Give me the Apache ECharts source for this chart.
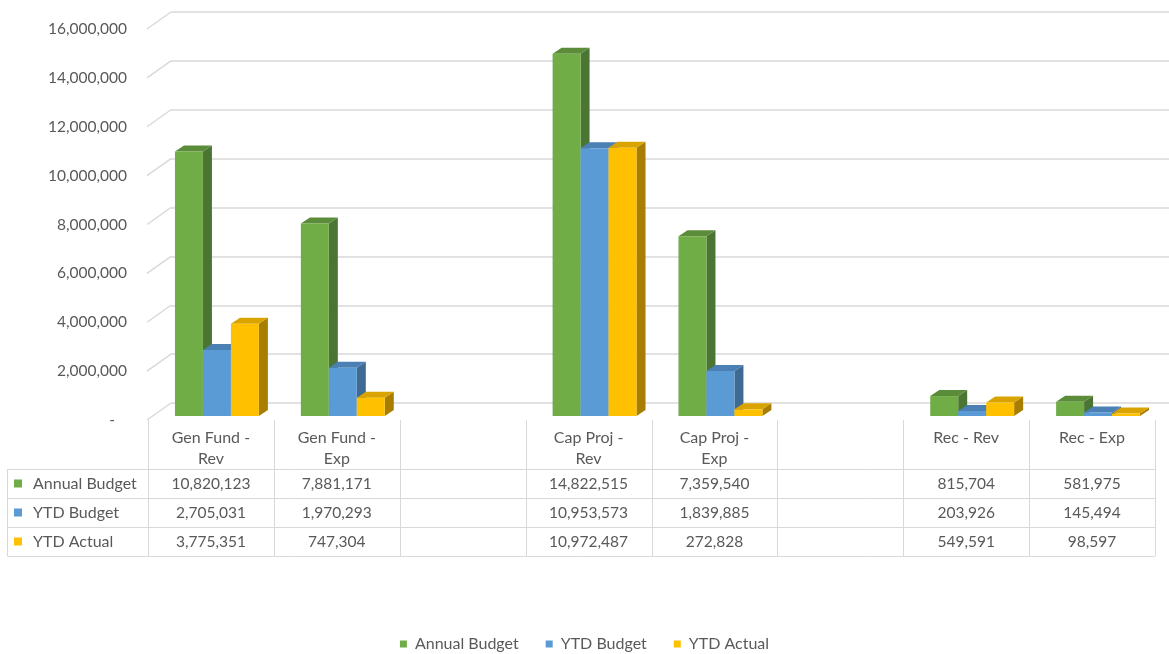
<!DOCTYPE html>
<html>
<head>
<meta charset="utf-8">
<script src="https://cdn.jsdelivr.net/npm/echarts@6/dist/echarts.min.js"></script>
<style>
  html, body { margin: 0; padding: 0; background: #fff; }
  #chart { width: 1169px; height: 654px; }
</style>
</head>
<body>
<div id="chart"></div>
<script>
// categories (blank ones are the gaps between fund groups)
const categories = ['Gen Fund -\nRev', 'Gen Fund -\nExp', '', 'Cap Proj -\nRev', 'Cap Proj -\nExp', '', 'Rec - Rev', 'Rec - Exp'];
const seriesNames = ['Annual Budget', 'YTD Budget', 'YTD Actual'];
const annualBudget = [10820123, 7881171, null, 14822515, 7359540, null, 815704, 581975];
const ytdBudget = [2705031, 1970293, null, 10953573, 1839885, null, 203926, 145494];
const ytdActual = [3775351, 747304, null, 10972487, 272828, null, 549591, 98597];
const yTicks = [0, 2000000, 4000000, 6000000, 8000000, 10000000, 12000000, 14000000, 16000000];

const FONT = 'Lato, "Open Sans", sans-serif';
const TEXT = '#595959';
const LINE = '#D9D9D9';
const NUM_SIZE = 15.5;
const WORD_SIZE = 16;
const COLORS = [
  { front: '#70AD47', top: '#5B8C3A', side: '#4B7532' },
  { front: '#5B9BD5', top: '#4A80B3', side: '#3E6A93' },
  { front: '#FFC000', top: '#D9A300', side: '#A87E00' }
];

// fake 3d: front floor -> back wall offset, bar placement inside the box
const WALL_DX = 24, WALL_DY = -17;
const BAR_SHIFT_X = 6, BAR_SHIFT_Y = -4, BAR_DX = 9, BAR_DY = -6;
// table rows, relative to the front floor line
const ROW_LINES = [49, 78, 107, 136];

const fmt = (v) => (v == null ? '' : v.toLocaleString('en-US'));
const px = (v) => Math.round(v) + 0.5;

const chart = echarts.init(document.getElementById('chart'));

function barRenderer(slot) {
  const c = COLORS[slot];
  return function (params, api) {
    const v = api.value(1);
    const base = api.coord([api.value(0), 0]);
    const top = api.coord([api.value(0), v]);
    const band = api.size([1, 0])[0];
    const w = band * 2 / 9;
    const x0 = base[0] - 1.5 * w + slot * w + BAR_SHIFT_X;
    const x1 = x0 + w;
    const yb = base[1] + BAR_SHIFT_Y;
    const yt = top[1] + BAR_SHIFT_Y;
    return {
      type: 'group',
      children: [
        {
          type: 'polygon',
          shape: { points: [[x1, yt], [x1 + BAR_DX, yt + BAR_DY], [x1 + BAR_DX, yb + BAR_DY], [x1, yb]] },
          style: { fill: c.side }
        },
        {
          type: 'polygon',
          shape: { points: [[x0, yt], [x0 + BAR_DX, yt + BAR_DY], [x1 + BAR_DX, yt + BAR_DY], [x1, yt]] },
          style: { fill: c.top }
        },
        {
          type: 'rect',
          shape: { x: x0, y: yt, width: w, height: yb - yt },
          style: { fill: c.front }
        }
      ]
    };
  };
}

function toData(values) {
  return values.map((v, i) => (v == null ? null : [i, v])).filter(Boolean);
}

const tableValues = [annualBudget, ytdBudget, ytdActual];

const option = {
  animation: false,
  backgroundColor: '#fff',
  textStyle: { fontFamily: FONT },
  legend: {
    data: seriesNames,
    top: 631,
    left: 'center',
    icon: 'rect',
    itemWidth: 7,
    itemHeight: 7,
    itemGap: 27,
    textStyle: { color: TEXT, fontSize: WORD_SIZE, fontFamily: FONT, padding: [0, 0, 0, 3] }
  },
  grid: [
    { left: 148, right: 14, top: 29, height: 391 },
    { left: 171, right: 0, top: 12, height: 391 }
  ],
  xAxis: [
    { type: 'category', gridIndex: 0, data: categories, show: false },
    { type: 'category', gridIndex: 1, data: categories, show: false }
  ],
  yAxis: [
    {
      type: 'value', gridIndex: 0, min: 0, max: 16000000, interval: 2000000,
      axisLine: { show: false }, axisTick: { show: false }, splitLine: { show: false },
      axisLabel: {
        margin: 21, color: TEXT, fontSize: NUM_SIZE, fontFamily: FONT,
        formatter: (v) => (v === 0 ? '-   ' : fmt(v))
      }
    },
    {
      type: 'value', gridIndex: 1, min: 0, max: 16000000, interval: 2000000,
      axisLine: { show: false }, axisTick: { show: false }, axisLabel: { show: false },
      splitLine: { lineStyle: { color: LINE, width: 1.5 } }
    }
  ],
  series: [
    // side wall diagonals
    {
      type: 'custom',
      name: 'wall',
      xAxisIndex: 0, yAxisIndex: 0,
      silent: true,
      data: yTicks.map((t) => [0, t]),
      renderItem: (params, api) => {
        const cs = params.coordSys;
        const y = api.coord([0, api.value(1)])[1];
        return {
          type: 'line',
          shape: { x1: cs.x - 1, y1: y, x2: cs.x + WALL_DX - 1, y2: y + WALL_DY },
          style: { stroke: LINE, lineWidth: 1.5 }
        };
      }
    },
    ...seriesNames.map((name, s) => ({
      type: 'custom',
      name,
      xAxisIndex: 0, yAxisIndex: 0,
      itemStyle: { color: COLORS[s].front },
      data: toData(tableValues[s]),
      renderItem: barRenderer(s)
    })),
    // data table: category columns
    {
      type: 'custom',
      name: 'table',
      xAxisIndex: 0, yAxisIndex: 0,
      silent: true,
      data: categories.map((c, i) => [i, 0]),
      renderItem: (params, api) => {
        const i = api.value(0);
        const cs = params.coordSys;
        const cx = api.coord([i, 0])[0];
        const band = api.size([1, 0])[0];
        const floor = cs.y + cs.height;
        const bottom = floor + ROW_LINES[ROW_LINES.length - 1];
        const children = [];
        const lx = px(cx - band / 2);
        children.push({ type: 'line', shape: { x1: lx, y1: floor, x2: lx, y2: bottom }, style: { stroke: LINE, lineWidth: 1 } });
        if (i === categories.length - 1) {
          const rx = px(cx + band / 2);
          children.push({ type: 'line', shape: { x1: rx, y1: floor, x2: rx, y2: bottom }, style: { stroke: LINE, lineWidth: 1 } });
        }
        children.push({
          type: 'text',
          style: {
            text: categories[i], x: cx, y: floor + 7,
            align: 'center', verticalAlign: 'top', lineHeight: 21,
            fill: TEXT, fontSize: WORD_SIZE, fontFamily: FONT
          }
        });
        tableValues.forEach((vals, r) => {
          children.push({
            type: 'text',
            style: {
              text: fmt(vals[i]), x: cx, y: floor + (ROW_LINES[r] + ROW_LINES[r + 1]) / 2,
              align: 'center', verticalAlign: 'middle',
              fill: TEXT, fontSize: NUM_SIZE, fontFamily: FONT
            }
          });
        });
        return { type: 'group', children };
      }
    },
    // data table: row headers and horizontal rules
    {
      type: 'custom',
      name: 'rows',
      xAxisIndex: 0, yAxisIndex: 0,
      silent: true,
      data: seriesNames.map((n, r) => [0, r]),
      renderItem: (params, api) => {
        const r = api.value(1);
        const cs = params.coordSys;
        const floor = cs.y + cs.height;
        const top = floor + ROW_LINES[r];
        const bot = floor + ROW_LINES[r + 1];
        const right = cs.x + cs.width;
        const children = [
          { type: 'line', shape: { x1: 7.5, y1: px(top), x2: right, y2: px(top) }, style: { stroke: LINE, lineWidth: 1 } },
          { type: 'line', shape: { x1: 7.5, y1: top, x2: 7.5, y2: bot }, style: { stroke: LINE, lineWidth: 1 } },
          { type: 'rect', shape: { x: 14, y: (top + bot) / 2 - 4, width: 8, height: 8 }, style: { fill: COLORS[r].front } },
          {
            type: 'text',
            style: {
              text: seriesNames[r], x: 33, y: (top + bot) / 2,
              align: 'left', verticalAlign: 'middle',
              fill: TEXT, fontSize: WORD_SIZE, fontFamily: FONT
            }
          }
        ];
        if (r === seriesNames.length - 1) {
          children.push({ type: 'line', shape: { x1: 7.5, y1: px(bot), x2: right, y2: px(bot) }, style: { stroke: LINE, lineWidth: 1 } });
        }
        return { type: 'group', children };
      }
    }
  ]
};

chart.setOption(option);
</script>
</body>
</html>
